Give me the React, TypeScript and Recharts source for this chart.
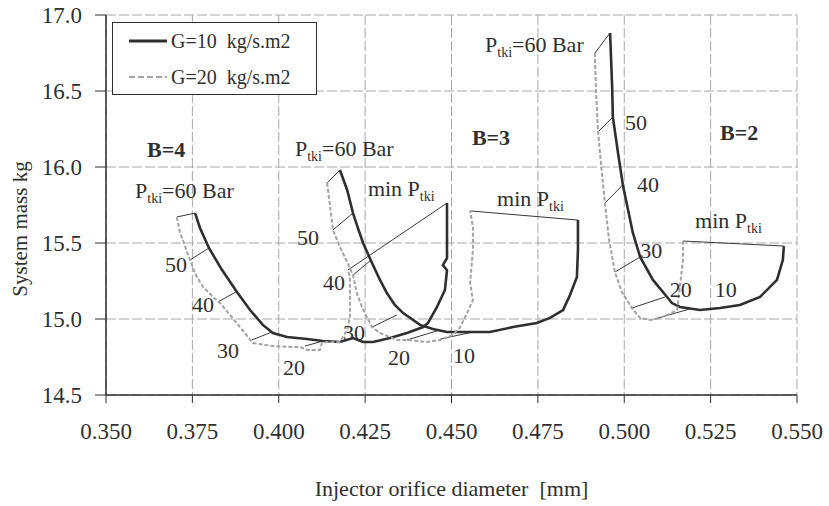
import {
  ComposedChart,
  Line,
  Scatter,
  XAxis,
  YAxis,
  CartesianGrid,
  Legend,
} from "recharts";

const FONT = "Liberation Serif, Tinos, Times New Roman, DejaVu Serif, serif";
const INK = "#2f2f2f";
const GREY = "#a3a3a3";

const xTicks = [0.35, 0.375, 0.4, 0.425, 0.45, 0.475, 0.5, 0.525, 0.55];
const yTicks = [14.5, 15.0, 15.5, 16.0, 16.5, 17.0];

// B=4, from Ptki=60 Bar down to min Ptki
const b4G10: [number, number][] = [
  [0.3758, 15.697], [0.3772, 15.599], [0.3798, 15.467], [0.3836, 15.322],
  [0.3879, 15.178], [0.3917, 15.059], [0.3954, 14.961], [0.3983, 14.908],
  [0.4024, 14.882], [0.4082, 14.868], [0.4128, 14.855], [0.4177, 14.849],
  [0.4215, 14.875], [0.4244, 14.849], [0.4273, 14.849], [0.4322, 14.875],
  [0.4371, 14.908], [0.4418, 14.947], [0.4432, 14.974], [0.4458, 15.079],
  [0.4481, 15.191], [0.4487, 15.322], [0.4475, 15.355], [0.4487, 15.401],
  [0.4487, 15.586], [0.4487, 15.763],
];
const b4G20: [number, number][] = [
  [0.3705, 15.671], [0.3714, 15.572], [0.3743, 15.388], [0.376, 15.289],
  [0.3781, 15.211], [0.3807, 15.151], [0.383, 15.105], [0.3859, 15.026],
  [0.3888, 14.947], [0.3925, 14.842], [0.3983, 14.822], [0.4033, 14.816],
  [0.4062, 14.816], [0.4082, 14.796], [0.4119, 14.796], [0.4125, 14.842],
  [0.414, 14.849], [0.4177, 14.849], [0.4198, 14.928], [0.4206, 15.013],
  [0.4206, 15.125], [0.4206, 15.276], [0.42, 15.322],
];

// B=3
const b3G10: [number, number][] = [
  [0.4177, 15.98], [0.4198, 15.849], [0.4215, 15.697], [0.4229, 15.599],
  [0.4244, 15.5], [0.427, 15.368], [0.4293, 15.257], [0.4313, 15.171],
  [0.4336, 15.092], [0.436, 15.039], [0.4409, 14.961], [0.4446, 14.934],
  [0.4487, 14.914], [0.4562, 14.914], [0.4611, 14.914], [0.4678, 14.947],
  [0.4747, 14.974], [0.4785, 15.007], [0.4823, 15.059], [0.4843, 15.158],
  [0.4863, 15.276], [0.4866, 15.454], [0.4866, 15.651],
];
const b3G20: [number, number][] = [
  [0.414, 15.895], [0.4148, 15.75], [0.4157, 15.586], [0.4177, 15.474],
  [0.4198, 15.375], [0.4215, 15.289], [0.4226, 15.171], [0.4241, 15.079],
  [0.4255, 15.013], [0.427, 14.947], [0.4293, 14.908], [0.4342, 14.862],
  [0.4371, 14.862], [0.4429, 14.849], [0.4467, 14.862], [0.4504, 14.895],
  [0.4525, 14.947], [0.4545, 15.039], [0.4562, 15.125], [0.4554, 15.237],
  [0.4562, 15.454], [0.4562, 15.605], [0.4554, 15.711],
];

// B=2
const b2G10: [number, number][] = [
  [0.4959, 16.882], [0.4965, 16.526], [0.4967, 16.329], [0.4982, 16.092],
  [0.4996, 15.882], [0.5025, 15.566], [0.5046, 15.408], [0.5083, 15.257],
  [0.5124, 15.145], [0.5138, 15.105], [0.5161, 15.079], [0.5219, 15.059],
  [0.5277, 15.072], [0.5335, 15.092], [0.5393, 15.145], [0.5442, 15.257],
  [0.5459, 15.388], [0.5462, 15.48],
];
const b2G20: [number, number][] = [
  [0.4915, 16.75], [0.4918, 16.507], [0.4924, 16.243], [0.4933, 16.013],
  [0.4944, 15.763], [0.4956, 15.52], [0.4973, 15.309], [0.4993, 15.178],
  [0.5022, 15.072], [0.5046, 15.007], [0.5075, 14.993], [0.5103, 15.007],
  [0.5124, 15.026], [0.5153, 15.059], [0.5161, 15.211], [0.517, 15.388],
  [0.517, 15.513],
];

// thin lines joining equal Ptki on the two G curves
const ptkiLinks: [number, number, number, number][] = [
  // top (60 Bar)
  [0.3705, 15.671, 0.3758, 15.697],
  [0.414, 15.895, 0.4177, 15.98],
  [0.4915, 16.75, 0.4959, 16.882],
  // B=4: 50, 40, 30, 20
  [0.3798, 15.467, 0.3743, 15.388],
  [0.3876, 15.178, 0.3824, 15.112],
  [0.398, 14.914, 0.3922, 14.862],
  [0.4128, 14.855, 0.4076, 14.822],
  // B=3: 50, 40, 30, 20, 10
  [0.4215, 15.697, 0.4157, 15.586],
  [0.4267, 15.388, 0.4215, 15.289],
  [0.4342, 15.026, 0.427, 14.947],
  [0.4467, 14.928, 0.4371, 14.862],
  [0.4562, 14.914, 0.4467, 14.868],
  // B=2: 50, 40, 30, 20, 10
  [0.4967, 16.329, 0.4924, 16.23],
  [0.4996, 15.882, 0.4944, 15.763],
  [0.5046, 15.408, 0.4973, 15.309],
  [0.5118, 15.145, 0.5022, 15.072],
  [0.519, 15.066, 0.5088, 15.0],
  // min Ptki
  [0.4487, 15.763, 0.42, 15.322],
  [0.4866, 15.651, 0.4554, 15.711],
  [0.5462, 15.48, 0.517, 15.513],
];

// annotation text: x, y (baseline start), main text, subscript, tail
const notes = [
  { x: 0.3619, y: 16.066, pre: "B=4", sub: "", post: "", bold: true },
  { x: 0.4559, y: 16.145, pre: "B=3", sub: "", post: "", bold: true },
  { x: 0.5277, y: 16.178, pre: "B=2", sub: "", post: "", bold: true },
  { x: 0.3584, y: 15.796, pre: "P", sub: "tki", post: "=60 Bar" },
  { x: 0.4047, y: 16.072, pre: "P", sub: "tki", post: "=60 Bar" },
  { x: 0.4597, y: 16.757, pre: "P", sub: "tki", post: "=60 Bar" },
  { x: 0.4258, y: 15.809, pre: "min P", sub: "tki", post: "" },
  { x: 0.4632, y: 15.743, pre: "min P", sub: "tki", post: "" },
  { x: 0.5205, y: 15.599, pre: "min P", sub: "tki", post: "" },
  { x: 0.3671, y: 15.309, pre: "50", sub: "", post: "" },
  { x: 0.3749, y: 15.046, pre: "40", sub: "", post: "" },
  { x: 0.3821, y: 14.743, pre: "30", sub: "", post: "" },
  { x: 0.4012, y: 14.632, pre: "20", sub: "", post: "" },
  { x: 0.4053, y: 15.487, pre: "50", sub: "", post: "" },
  { x: 0.4128, y: 15.191, pre: "40", sub: "", post: "" },
  { x: 0.4186, y: 14.862, pre: "30", sub: "", post: "" },
  { x: 0.4316, y: 14.697, pre: "20", sub: "", post: "" },
  { x: 0.4504, y: 14.711, pre: "10", sub: "", post: "" },
  { x: 0.5002, y: 16.243, pre: "50", sub: "", post: "" },
  { x: 0.5037, y: 15.836, pre: "40", sub: "", post: "" },
  { x: 0.5046, y: 15.401, pre: "30", sub: "", post: "" },
  { x: 0.5132, y: 15.145, pre: "20", sub: "", post: "" },
  { x: 0.5262, y: 15.145, pre: "10", sub: "", post: "" },
];

const toRows = (pts: [number, number][]) => pts.map(([x, y]) => ({ x, y }));

const curves = [
  { key: "b4g10", pts: b4G10, dark: true },
  { key: "b4g20", pts: b4G20, dark: false },
  { key: "b3g10", pts: b3G10, dark: true },
  { key: "b3g20", pts: b3G20, dark: false },
  { key: "b2g10", pts: b2G10, dark: true },
  { key: "b2g20", pts: b2G20, dark: false },
];

function NoteShape(props: any) {
  const { cx, cy, payload } = props;
  return (
    <text
      x={cx}
      y={cy}
      style={{ fontFamily: FONT }}
      fontSize={22}
      fontWeight={payload.bold ? 700 : 400}
      fill={INK}
    >
      {payload.pre}
      {payload.sub && (
        <tspan dy={5} fontSize={14}>
          {payload.sub}
        </tspan>
      )}
      {payload.post && <tspan dy={-5}>{payload.post}</tspan>}
    </text>
  );
}

function LegendBox() {
  const row = (dark: boolean, text: string) => (
    <div style={{ display: "flex", alignItems: "center", height: 36 }}>
      <svg width={40} height={10} style={{ marginRight: 4 }}>
        <line
          x1={2}
          y1={5}
          x2={40}
          y2={5}
          stroke={dark ? INK : GREY}
          strokeWidth={dark ? 3 : 2}
          strokeDasharray={dark ? undefined : "6 3"}
        />
      </svg>
      <span>{text}</span>
    </div>
  );
  return (
    <div
      style={{
        width: 205,
        height: 73,
        boxSizing: "border-box",
        border: `1px solid ${INK}`,
        background: "#fff",
        padding: "0 0 0 14px",
        fontFamily: FONT,
        fontSize: 20,
        color: INK,
        whiteSpace: "pre",
      }}
    >
      {row(true, "G=10  kg/s.m2")}
      {row(false, "G=20  kg/s.m2")}
    </div>
  );
}

export default function App() {
  return (
    <div style={{ position: "absolute", left: 0, top: 0, background: "#fff", fontFamily: FONT }}>
      <ComposedChart
        width={829}
        height={506}
        margin={{ top: 15, right: 32, bottom: 0, left: 0 }}
        style={{ fontFamily: FONT }}
      >
        <CartesianGrid stroke="#a8a8a8" strokeDasharray="10 3" />
        <XAxis
          type="number"
          dataKey="x"
          domain={[0.35, 0.55]}
          ticks={xTicks}
          interval={0}
          allowDataOverflow
          height={111}
          tickSize={8}
          tickMargin={20}
          tickFormatter={(v: number) => v.toFixed(3)}
          tick={{ fontSize: 23, fill: INK, style: { fontFamily: FONT } }}
          tickLine={{ stroke: INK }}
          axisLine={{ stroke: INK, strokeWidth: 1.5 }}
          label={{
            content: ({ viewBox }: any) => (
              <text
                x={viewBox.x + viewBox.width / 2}
                y={viewBox.y + 101}
                textAnchor="middle"
                fontSize={22}
                fill={INK}
                style={{ whiteSpace: "pre", fontFamily: FONT }}
              >
                {"Injector orifice diameter  [mm]"}
              </text>
            ),
          }}
        />
        <YAxis
          type="number"
          dataKey="y"
          domain={[14.5, 17]}
          ticks={yTicks}
          interval={0}
          allowDataOverflow
          width={106}
          tickSize={11}
          tickMargin={13}
          tickFormatter={(v: number) => v.toFixed(1)}
          tick={{ fontSize: 23, fill: INK, style: { fontFamily: FONT } }}
          tickLine={{ stroke: INK }}
          axisLine={{ stroke: INK, strokeWidth: 1.5 }}
          label={{
            content: ({ viewBox }: any) => {
              const cx = viewBox.x + 20;
              const cy = viewBox.y + viewBox.height / 2 + 24;
              return (
                <text
                  x={cx}
                  y={cy}
                  transform={`rotate(-90, ${cx}, ${cy})`}
                  textAnchor="middle"
                  dominantBaseline="central"
                  fontSize={21}
                  fill={INK}
                  style={{ fontFamily: FONT }}
                >
                  System mass kg
                </text>
              );
            },
          }}
        />
        <Legend
          layout="horizontal"
          verticalAlign="middle"
          align="center"
          content={() => <LegendBox />}
          wrapperStyle={{ left: 112, top: 22, width: 205, height: 73 }}
        />
        {ptkiLinks.map(([x1, y1, x2, y2], i) => (
          <Line
            key={`link${i}`}
            data={[{ x: x1, y: y1 }, { x: x2, y: y2 }]}
            dataKey="y"
            type="linear"
            stroke="#3a3a3a"
            strokeWidth={1}
            dot={false}
            activeDot={false}
            legendType="none"
            isAnimationActive={false}
          />
        ))}
        {curves.map((c) => (
          <Line
            key={c.key}
            data={toRows(c.pts)}
            dataKey="y"
            type="linear"
            stroke={c.dark ? INK : GREY}
            strokeWidth={c.dark ? 2.6 : 2}
            strokeDasharray={c.dark ? undefined : "4 2"}
            dot={false}
            activeDot={false}
            legendType="none"
            isAnimationActive={false}
          />
        ))}
        <Scatter
          data={notes}
          dataKey="y"
          shape={NoteShape}
          legendType="none"
          isAnimationActive={false}
        />
      </ComposedChart>
    </div>
  );
}
